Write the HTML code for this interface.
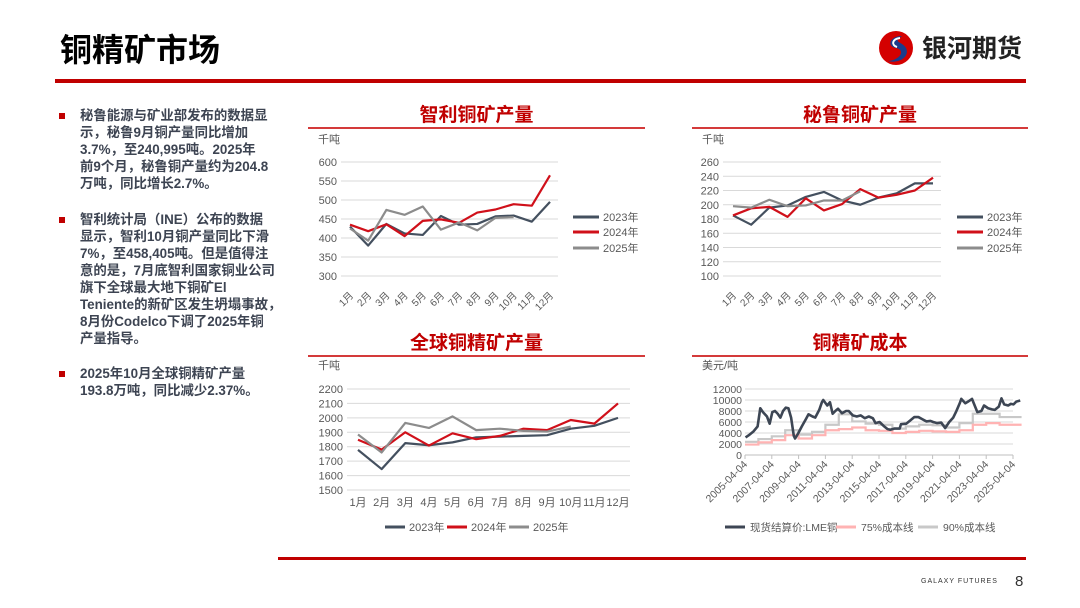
<!DOCTYPE html>
<html><head><meta charset="utf-8">
<style>
body{margin:0;width:1080px;height:608px;position:relative;background:#fff;overflow:hidden;font-family:"Liberation Sans","Noto Sans CJK SC",sans-serif}
.ab{position:absolute}
.tl{position:absolute;left:80px;font-size:13.4px;font-weight:bold;color:#3d4452;white-space:nowrap;line-height:17px}
.bu{position:absolute;left:59px;width:6px;height:6px;background:#c00000}
.pt{position:absolute;font-size:19px;font-weight:bold;color:#c00000;text-align:center;font-family:"Noto Sans CJK SC",sans-serif}
.pl{position:absolute;height:2px;background:#d43a3a}
</style></head><body>
<div class="ab" style="left:60px;top:27px;font-size:32px;font-weight:bold;color:#000;font-family:'Noto Sans CJK SC',sans-serif;line-height:42px">铜精矿市场</div>
<div class="ab" style="left:876px;top:28px;width:150px;height:40px">
<svg width="40" height="40" viewBox="0 0 40 40"><circle cx="20" cy="20" r="17" fill="#d40000"/><path d="M26 8 C14 8 10 18 20 20 C30 22 24 32 12 33 C24 36 34 28 30 20 C26 13 16 15 26 8Z" fill="#1a3c8c"/><path d="M24 10 C16 11 15 17 21 19" stroke="#fff" stroke-width="2" fill="none"/></svg>
<span class="ab" style="left:46px;top:1px;font-size:25px;font-weight:bold;color:#222;font-family:'Noto Sans CJK SC',sans-serif;white-space:nowrap">银河期货</span></div>
<div class="ab" style="left:55px;top:79px;width:971px;height:4px;background:#c00000"></div>

<div class="bu" style="top:113px"></div>
<div class="tl" style="top:107px">秘鲁能源与矿业部发布的数据显</div>
<div class="tl" style="top:124px">示，秘鲁9月铜产量同比增加</div>
<div class="tl" style="top:141px">3.7%，至240,995吨。2025年</div>
<div class="tl" style="top:158px">前9个月，秘鲁铜产量约为204.8</div>
<div class="tl" style="top:175px">万吨，同比增长2.7%。</div>
<div class="bu" style="top:217px"></div>
<div class="tl" style="top:211px">智利统计局（INE）公布的数据</div>
<div class="tl" style="top:228px">显示，智利10月铜产量同比下滑</div>
<div class="tl" style="top:245px">7%，至458,405吨。但是值得注</div>
<div class="tl" style="top:262px">意的是，7月底智利国家铜业公司</div>
<div class="tl" style="top:279px">旗下全球最大地下铜矿El</div>
<div class="tl" style="top:296px">Teniente的新矿区发生坍塌事故，</div>
<div class="tl" style="top:313px">8月份Codelco下调了2025年铜</div>
<div class="tl" style="top:330px">产量指导。</div>
<div class="bu" style="top:371px"></div>
<div class="tl" style="top:365px">2025年10月全球铜精矿产量</div>
<div class="tl" style="top:382px">193.8万吨，同比减少2.37%。</div>

<div class="pt" style="left:308px;top:100px;width:337px">智利铜矿产量</div>
<div class="pl" style="left:308px;top:127px;width:337px"></div>
<div class="pt" style="left:692px;top:100px;width:336px">秘鲁铜矿产量</div>
<div class="pl" style="left:692px;top:127px;width:336px"></div>
<div class="pt" style="left:308px;top:328px;width:337px">全球铜精矿产量</div>
<div class="pl" style="left:308px;top:355px;width:337px"></div>
<div class="pt" style="left:692px;top:328px;width:336px">铜精矿成本</div>
<div class="pl" style="left:692px;top:355px;width:336px"></div>

<svg id="ch" class="ab" style="left:0;top:0" width="1080" height="608"></svg>

<div class="ab" style="left:278px;top:557px;width:748px;height:3px;background:#c00000"></div>
<div class="ab" style="left:921px;top:578px;font-size:7px;color:#333;letter-spacing:1px">GALAXY FUTURES</div>
<div class="ab" style="left:1015px;top:573px;font-size:15px;color:#333">8</div>

<script>
const months=['1月','2月','3月','4月','5月','6月','7月','8月','9月','10月','11月','12月'];
const chile2023=[430,380,437,412,408,458,435,437,457,459,443,495];
const chile2024=[435,418,436,405,445,449,440,467,475,489,485,565];
const chile2025=[425,393,474,461,483,422,441,420,453,455];
const chileTicks=[300,350,400,450,500,550,600];
const peru2023=[185,172,196,199,211,218,206,200,210,216,230,230];
const peru2024=[185,195,197,183,209,192,201,222,210,214,220,238];
const peru2025=[198,196,207,198,199,206,206,219];
const peruTicks=[100,120,140,160,180,200,220,240,260];
const glob2023=[1778,1645,1825,1810,1830,1865,1870,1875,1880,1925,1945,2000];
const glob2024=[1848,1780,1900,1808,1893,1852,1875,1925,1915,1985,1960,2100];
const glob2025=[1885,1760,1965,1930,2010,1915,1925,1910,1905,1940];
const globTicks=[1500,1600,1700,1800,1900,2000,2100,2200];
const lmeT=[2005.3,2005.6,2005.9,2006.2,2006.4,2006.6,2006.9,2007.1,2007.3,2007.5,2007.7,2007.9,2008.1,2008.3,2008.5,2008.7,2008.9,2009.0,2009.2,2009.5,2009.8,2010.0,2010.3,2010.5,2010.8,2011.0,2011.1,2011.4,2011.6,2011.8,2012.0,2012.2,2012.5,2012.8,2013.0,2013.3,2013.6,2013.9,2014.2,2014.5,2014.8,2015.0,2015.3,2015.6,2015.9,2016.1,2016.4,2016.8,2016.9,2017.3,2017.6,2017.9,2018.2,2018.5,2018.8,2019.1,2019.3,2019.6,2019.9,2020.2,2020.5,2020.8,2021.0,2021.3,2021.4,2021.7,2021.9,2022.2,2022.4,2022.6,2022.9,2023.1,2023.4,2023.7,2023.9,2024.2,2024.4,2024.6,2024.9,2025.1,2025.3,2025.5,2025.8];
const lmeV=[3200,3700,4300,5200,8500,7800,7000,5700,7800,8000,7500,6800,8000,8600,8500,6800,3500,3000,3800,5200,6500,7400,7000,6800,8200,9600,10000,9000,9600,7500,8000,8400,7600,8000,8000,7200,7000,7200,6700,7000,6700,5800,6000,5300,4700,4600,4800,4800,5600,5700,6300,6900,6900,6500,6100,6200,6000,5800,5900,4900,6000,6800,7800,9500,10200,9400,9700,10200,9000,7800,8000,9000,8500,8300,8200,8800,10300,9200,9000,9300,9200,9700,9900];
const costYears=[2005,2006,2007,2008,2009,2010,2011,2012,2013,2014,2015,2016,2017,2018,2019,2020,2021,2022,2023,2024,2025];
const cost75=[1900,2300,2700,3600,3000,3600,4500,4700,5000,4500,4400,4000,4200,4400,4300,4200,4500,5500,5800,5500,5500];
const cost90=[2400,2900,3400,4500,3700,4200,5500,7400,6100,5700,5500,4800,5200,5500,5400,5000,5800,7500,7500,6900,6900];
const costTicks=[0,2000,4000,6000,8000,10000,12000];
const dateLabels=['2005-04-04','2007-04-04','2009-04-04','2011-04-04','2013-04-04','2015-04-04','2017-04-04','2019-04-04','2021-04-04','2023-04-04','2025-04-04'];

const svg=document.getElementById('ch');const NS='http://www.w3.org/2000/svg';
function mk(t,a,txt){const e=document.createElementNS(NS,t);for(const k in a)e.setAttribute(k,a[k]);if(txt!==undefined)e.textContent=txt;svg.appendChild(e);return e;}
const C1='#44505f',C2='#d0101a',C3='#8c8c8c';
function lineChart(o){
  const y=v=>o.y0+(v-o.tmin)/(o.tmax-o.tmin)*(o.y1-o.y0);
  const x=i=>o.mx0+i*(o.mx1-o.mx0)/11;
  let u=mk('text',{x:o.ux,y:o.uy,'font-size':11,fill:'#555'},'千吨');
  
  
  o.ticks.forEach(t=>{
    let g=mk('line',{x1:o.gx0,x2:o.gx1,y1:y(t),y2:y(t),stroke:'#d9d9d9','stroke-width':1});
    
    
    let l=mk('text',{x:o.gx0-4,y:y(t)+4,'font-size':11,fill:'#595959','text-anchor':'end'},String(t));
    
    
  });
  months.forEach((m,i)=>{
    let l;
    if(o.rot){l=mk('text',{x:x(i)+4,y:o.ly,'font-size':10,fill:'#595959','text-anchor':'end',transform:'rotate(-45 '+(x(i)+4)+' '+o.ly+')'},m);}
    else l=mk('text',{x:x(i),y:o.ly,'font-size':11,fill:'#595959','text-anchor':'middle'},m);
    
    
  });
  [[o.s[0],C1,'2023年'],[o.s[1],C2,'2024年'],[o.s[2],C3,'2025年']].forEach((s,k)=>{
    let p=mk('polyline',{points:s[0].map((v,i)=>x(i)+','+y(v)).join(' '),fill:'none',stroke:s[1],'stroke-width':2.2,'stroke-linejoin':'round'});
    
    
    const L=o.leg[k];
    let ll=mk('line',{x1:L[0],x2:L[0]+L[2],y1:L[1],y2:L[1],stroke:s[1],'stroke-width':3});
    
    
    let lt=mk('text',{x:L[0]+L[2]+4,y:L[1]+4,'font-size':11,fill:'#595959'},s[2]);
    
    
  });
}
lineChart({ux:318,uy:143,tmin:300,tmax:600,ticks:chileTicks,y0:276,y1:162,gx0:341,gx1:558,mx0:350,mx1:550,ly:296,rot:true,
  s:[chile2023,chile2024,chile2025],leg:[[573,217,26],[573,232,26],[573,248,26]]});
lineChart({ux:702,uy:143,tmin:100,tmax:260,ticks:peruTicks,y0:276,y1:162,gx0:723,gx1:941,mx0:733,mx1:933,ly:296,rot:true,
  s:[peru2023,peru2024,peru2025],leg:[[957,217,26],[957,232,26],[957,248,26]]});
lineChart({ux:318,uy:369,tmin:1500,tmax:2200,ticks:globTicks,y0:490,y1:389,gx0:347,gx1:630,mx0:358,mx1:618,ly:506,rot:false,
  s:[glob2023,glob2024,glob2025],leg:[[385,527,20],[447,527,20],[509,527,20]]});

(function(){
  const gx0=745,gx1=1013,y0=455,y1=389,t0=2005.26,t1=2025.26;
  const x=t=>gx0+(t-t0)/(t1-t0)*(gx1-gx0);
  const y=v=>y0+v/12000*(y1-y0);
  let u=mk('text',{x:702,y:369,'font-size':11,fill:'#555'},'美元/吨');
  
  
  costTicks.forEach(t=>{
    let g=mk('line',{x1:gx0,x2:gx1,y1:y(t),y2:y(t),stroke:'#d9d9d9','stroke-width':1});
    
    
    let l=mk('text',{x:gx0-3,y:y(t)+4,'font-size':10.5,fill:'#595959','text-anchor':'end'},String(t));
    
    
  });
  let ax=mk('line',{x1:gx0,x2:gx1,y1:y0,y2:y0,stroke:'#bfbfbf'});
  
  
  dateLabels.forEach((d,i)=>{
    const xx=gx0+i*(gx1-gx0)/(dateLabels.length-1);
    let tk=mk('line',{x1:xx,x2:xx,y1:y0,y2:y0+4,stroke:'#bfbfbf'});
    
    
    let l=mk('text',{x:xx+3,y:y0+10,'font-size':10.5,fill:'#595959','text-anchor':'end',transform:'rotate(-45 '+(xx+3)+' '+(y0+10)+')'},d);
    
    
  });
  function step(arr){let pts=[];arr.forEach((v,i)=>{const a=Math.max(costYears[i]+0.26,t0),b=Math.min(costYears[i]+1.26,2025.9);pts.push(x(a)+','+y(v),x(b)+','+y(v));});return pts.join(' ');}
  let p9=mk('polyline',{points:step(cost90),fill:'none',stroke:'#c8c8c8','stroke-width':2.2});
  
  
  let p7=mk('polyline',{points:step(cost75),fill:'none',stroke:'#ffb3b3','stroke-width':2.2});
  
  
  let pl=mk('polyline',{points:lmeT.map((t,i)=>x(t)+','+y(lmeV[i])).join(' '),fill:'none',stroke:'#3d4654','stroke-width':2.6,'stroke-linejoin':'round'});
  
  
  [[725,'#3d4654','现货结算价:LME铜'],[836,'#ffb3b3','75%成本线'],[918,'#c8c8c8','90%成本线']].forEach(L=>{
    let ll=mk('line',{x1:L[0],x2:L[0]+20,y1:527,y2:527,stroke:L[1],'stroke-width':3});
    
    
    let lt=mk('text',{x:L[0]+25,y:531,'font-size':10.5,fill:'#595959'},L[2]);
    
    
  });
})();
</script>
</body></html>
